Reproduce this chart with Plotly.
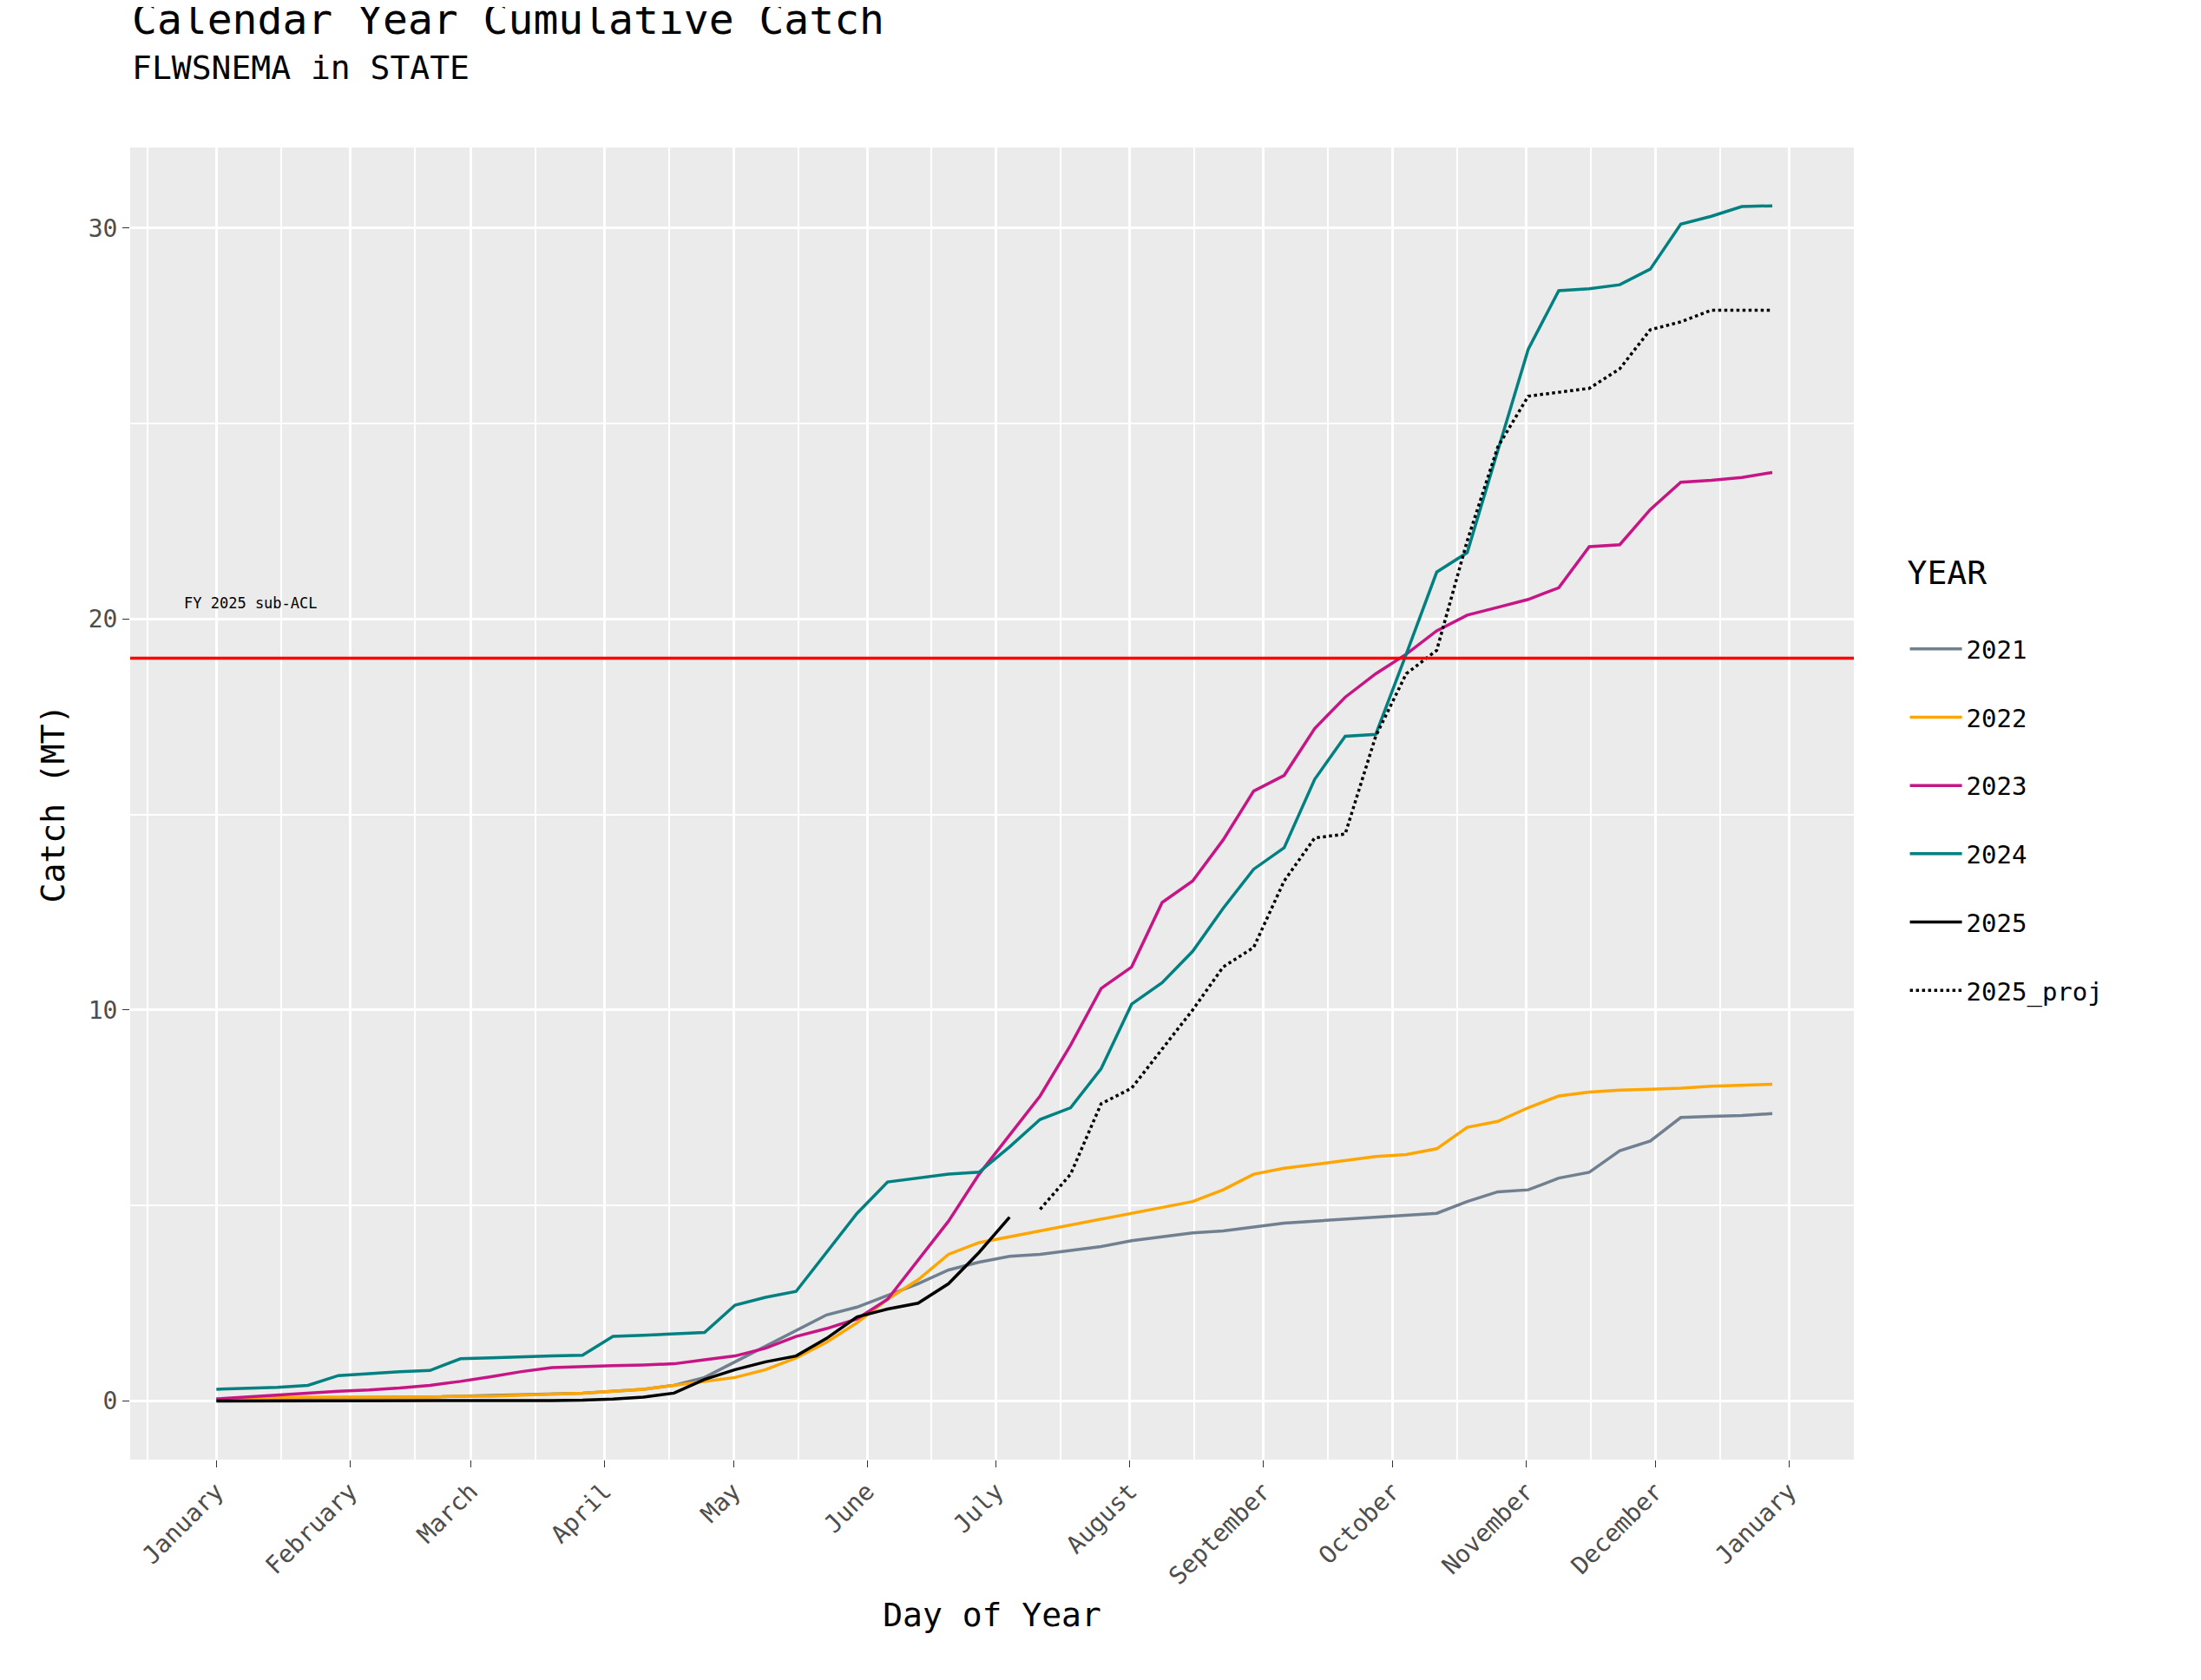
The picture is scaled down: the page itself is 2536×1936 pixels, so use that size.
import plotly.graph_objects as go
import pandas as pd

weeks = list(range(52))
y2021 = [0.05,0.06,0.07,0.08,0.08,0.09,0.1,0.1,0.12,0.13,0.15,0.17,0.2,0.25,0.3,0.4,0.6,1.0,1.4,1.8,2.2,2.4,2.7,3.0,3.35,3.55,3.7,3.75,3.85,3.95,4.1,4.2,4.3,4.35,4.45,4.55,4.6,4.65,4.7,4.75,4.8,5.1,5.35,5.4,5.7,5.85,6.4,6.65,7.25,7.28,7.3,7.35]
y2022 = [0.05,0.07,0.08,0.1,0.1,0.1,0.1,0.1,0.12,0.12,0.15,0.17,0.2,0.25,0.3,0.4,0.5,0.6,0.8,1.1,1.5,2.0,2.6,3.1,3.75,4.05,4.2,4.35,4.5,4.65,4.8,4.95,5.1,5.4,5.8,5.95,6.05,6.15,6.25,6.3,6.45,7.0,7.15,7.5,7.8,7.9,7.95,7.97,8.0,8.05,8.07,8.1]
y2023 = [0.05,0.1,0.15,0.2,0.25,0.28,0.33,0.4,0.5,0.62,0.75,0.85,0.88,0.9,0.92,0.95,1.05,1.15,1.35,1.65,1.85,2.1,2.6,3.6,4.6,5.8,6.8,7.8,9.1,10.55,11.1,12.75,13.3,14.35,15.6,16.0,17.2,18.0,18.6,19.1,19.7,20.1,20.3,20.5,20.8,21.85,21.9,22.8,23.5,23.55,23.62,23.75]
y2024 = [0.3,0.32,0.35,0.4,0.65,0.7,0.75,0.78,1.08,1.1,1.13,1.15,1.17,1.65,1.68,1.72,1.75,2.45,2.65,2.8,3.8,4.8,5.6,5.7,5.8,5.85,6.5,7.2,7.5,8.5,10.15,10.7,11.5,12.6,13.6,14.15,15.9,17.0,17.05,19.1,21.2,21.7,24.3,26.9,28.4,28.45,28.55,28.95,30.1,30.3,30.55,30.57]
y2025 = [0,0,0,0,0,0,0,0,0,0,0.01,0.01,0.02,0.05,0.1,0.2,0.55,0.8,1.0,1.15,1.6,2.15,2.35,2.5,3.0,3.8,4.7]
proj_start = 27
y2025_proj = [4.9,5.8,7.6,8.0,9.0,10.0,11.1,11.6,13.3,14.4,14.5,17.0,18.6,19.2,22.0,24.4,25.7,25.8,25.9,26.4,27.4,27.6,27.9,27.9,27.9]
sub_acl = 19.0
months = ["January","February","March","April","May","June","July","August",
          "September","October","November","December","January"]

base = pd.Timestamp("2025-01-01")
dates = [base + pd.Timedelta(days=k * 7.08) for k in weeks]

fig = go.Figure()
series = [("2021", y2021, "#708090"), ("2022", y2022, "#FFA500"),
          ("2023", y2023, "#C71585"), ("2024", y2024, "#008080"),
          ("2025", y2025, "black")]
for name, ys, col in series:
    fig.add_trace(go.Scatter(x=dates[:len(ys)], y=ys, mode="lines", name=name, legendgroup=name,
                             line=dict(color=col, width=3.5)))
fig.add_trace(go.Scatter(x=dates[proj_start:proj_start + len(y2025_proj)], y=y2025_proj,
                         mode="lines", name="2025_proj", legendgroup="proj",
                         line=dict(color="black", width=3.5, dash="dot")))

fig.add_hline(y=sub_acl, line=dict(color="red", width=3.5))
fig.add_annotation(x=base - pd.Timedelta(days=8), y=sub_acl + 1.4, text="FY 2025 sub-ACL",
                   showarrow=False, xanchor="left", font=dict(size=17, color="black"))
fig.add_annotation(xref="paper", yref="paper", x=0, y=1.0, yshift=1936*0 + 118,
                   text="Calendar Year Cumulative Catch", showarrow=False,
                   xanchor="left", yanchor="bottom", font=dict(size=48))
fig.add_annotation(xref="paper", yref="paper", x=0, y=1.0, yshift=68,
                   text="FLWSNEMA in STATE", showarrow=False,
                   xanchor="left", yanchor="bottom", font=dict(size=38))

tickvals = [pd.Timestamp(f"2025-{m:02d}-01") for m in range(1, 13)] + [pd.Timestamp("2026-01-01")]
font = "DejaVu Sans Mono"
fig.update_layout(
    width=2536, height=1936,
    paper_bgcolor="white", plot_bgcolor="#EBEBEB",
    margin=dict(l=142, r=408, t=162, b=262),
    font=dict(family=font, color="black"),
    legend=dict(title=dict(text="YEAR<br>", font=dict(size=38)), font=dict(size=29),
                x=1.03, y=0.7, yanchor="top", bgcolor="white", tracegroupgap=38,
                itemwidth=60),
    xaxis=dict(type="date", range=[base - pd.Timedelta(days=20), base + pd.Timedelta(days=380)],
               tickvals=tickvals, ticktext=months, tickangle=-45,
               tickfont=dict(size=28, color="#4D4D4D"), gridcolor="white", gridwidth=3,
               ticks="outside", ticklen=8, tickcolor="#333333", showline=False, zeroline=False,
               minor=dict(dtick="M1", tick0="2025-01-16", showgrid=True, gridcolor="white", gridwidth=1.5),
               title=dict(text="Day of Year", font=dict(size=38))),
    yaxis=dict(range=[-1.5, 32.06], tickvals=[0, 10, 20, 30],
               tickfont=dict(size=28, color="#4D4D4D"), gridcolor="white", gridwidth=3,
               ticks="outside", ticklen=8, tickcolor="#333333", zeroline=False,
               minor=dict(tickvals=[5, 15, 25], showgrid=True, gridcolor="white", gridwidth=1.5),
               title=dict(text="Catch (MT)", font=dict(size=38))),
)
fig.write_html("out.html")
